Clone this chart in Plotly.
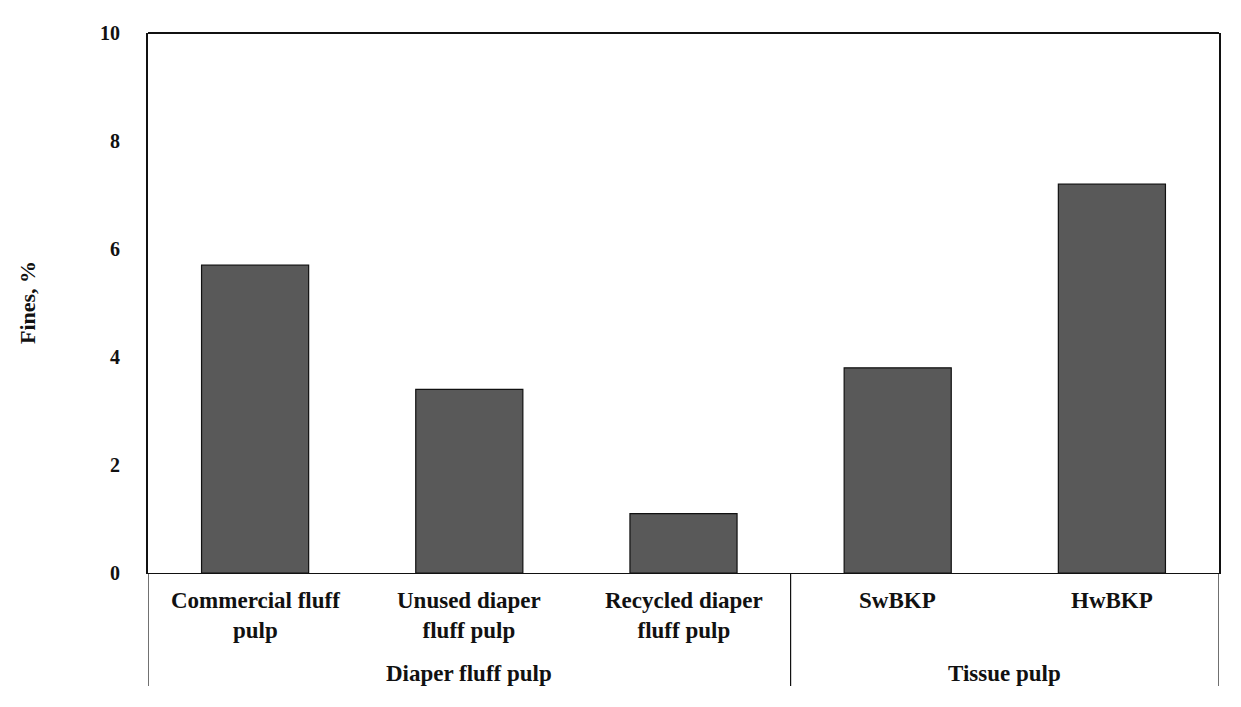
import plotly.graph_objects as go

categories = ["Commercial fluff pulp", "Unused diaper fluff pulp", "Recycled diaper fluff pulp", "SwBKP", "HwBKP"]
tick_labels = ["Commercial fluff<br>pulp", "Unused diaper<br>fluff pulp", "Recycled diaper<br>fluff pulp", "SwBKP", "HwBKP"]
fines = [5.7, 3.4, 1.1, 3.8, 7.2]
groups = ["Diaper fluff pulp", "Tissue pulp"]
group_sizes = [3, 2]
y_ticks = [0, 2, 4, 6, 8, 10]

FONT = "Liberation Serif"
# page body has an 8px margin; size the figure so the plot box lands where the reference has it
W, H = 1225, 691
ml, mr, mt, mb = 140, 14, 25, 126
plot_h = H - mt - mb
plot_w = W - ml - mr

fig = go.Figure()
fig.add_trace(go.Bar(
    x=categories, y=fines, width=0.5,
    marker=dict(color="#595959", line=dict(color="#111111", width=1.2)),
    showlegend=False,
))

annotations = []
for cat, lab in zip(categories, tick_labels):
    annotations.append(dict(
        x=cat, xref="x", y=-13 / plot_h, yref="paper", yanchor="top", xanchor="center",
        text=lab, showarrow=False,
        font=dict(family=FONT, size=23, color="#111111", weight="bold"),
    ))

shapes = []
start = 0
bounds = [-0.5]
for g, n in zip(groups, group_sizes):
    center = start + (n - 1) / 2
    annotations.append(dict(
        x=center, xref="x", y=-100 / plot_h, yref="paper", yanchor="middle", xanchor="center",
        text=g, showarrow=False,
        font=dict(family=FONT, size=23, color="#111111", weight="bold"),
    ))
    start += n
    bounds.append(start - 0.5)

for b in bounds:
    shapes.append(dict(type="line", xref="x", yref="paper", x0=b, x1=b, y0=0, y1=-113 / plot_h,
                       line=dict(color="#111111", width=1.2)))
# top border of plot box
shapes.append(dict(type="line", xref="paper", yref="paper", x0=0, x1=1, y0=1, y1=1,
                   line=dict(color="#111111", width=2)))

annotations.append(dict(
    x=(19 - ml) / plot_w, xref="paper", y=0.5, yref="paper",
    xanchor="center", yanchor="middle", textangle=-90, text="Fines, %", showarrow=False,
    font=dict(family=FONT, size=22, color="#111111", weight="bold"),
))

fig.update_layout(
    width=W, height=H,
    margin=dict(l=ml, r=mr, t=mt, b=mb),
    paper_bgcolor="white", plot_bgcolor="white",
    xaxis=dict(type="category", range=[-0.5, len(categories) - 0.5], showticklabels=False,
               ticks="", showgrid=False, showline=True, linecolor="#111111", linewidth=1.2,
               zeroline=False, fixedrange=True),
    yaxis=dict(range=[0, 10], tickvals=y_ticks, ticktext=[str(v) for v in y_ticks],
               ticks="", showgrid=False, zeroline=False, showline=True, mirror=True,
               linecolor="#111111", linewidth=2, ticklabelstandoff=22,
               tickfont=dict(family=FONT, size=20, color="#111111", weight="bold")),
    annotations=annotations,
    shapes=shapes,
    bargap=0.5,
)

fig.write_html("out.html")
